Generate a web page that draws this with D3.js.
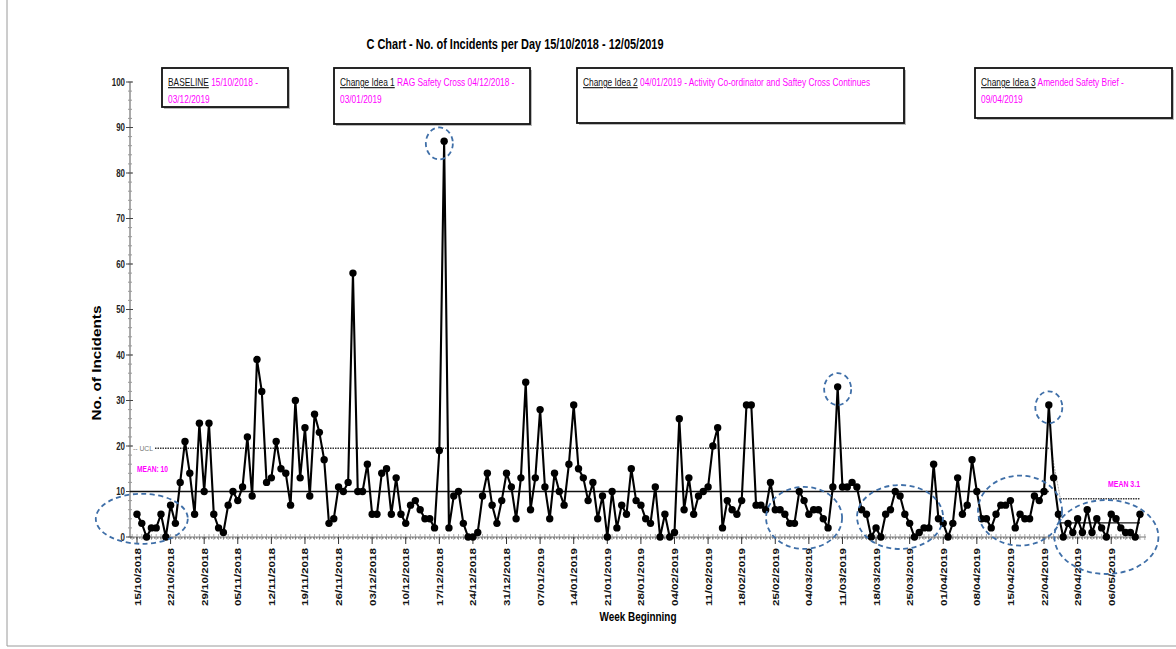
<!DOCTYPE html>
<html><head><meta charset="utf-8">
<script src="https://cdn.jsdelivr.net/npm/d3@7"></script>
<style>body{margin:0;background:#fff}svg{display:block}</style>
</head><body><svg id="c" width="1176" height="649"></svg>
<script>
const startDate = "15/10/2018";
const incidents = [
  5,3,0,2,2,5,0,7,3,12,21,14,5,25,10,25,5,2,1,7,10,8,11,22,9,39,32,12,13,21,15,14,7,30,13,
  24,9,27,23,17,3,4,11,10,12,58,10,10,16,5,5,14,15,5,13,5,3,7,8,6,4,4,2,19,87,2,9,10,3,0,
  0,1,9,14,7,3,8,14,11,4,13,34,6,13,28,11,4,14,10,7,16,29,15,13,8,12,4,9,0,10,2,7,5,15,8,
  7,4,3,11,0,5,0,1,26,6,13,5,9,10,11,20,24,2,8,6,5,8,29,29,7,7,6,12,6,6,5,3,3,10,8,
  5,6,6,4,2,11,33,11,11,12,11,6,5,0,2,0,5,6,10,9,5,3,0,1,2,2,16,4,3,0,3,13,5,7,17,
  10,4,4,2,5,7,7,8,2,5,4,4,9,8,10,29,13,5,0,3,1,4,1,6,1,4,2,0,5,4,2,1,1,0,5
];
const weekLabels = ["15/10/2018","22/10/2018","29/10/2018","05/11/2018","12/11/2018","19/11/2018",
  "26/11/2018","03/12/2018","10/12/2018","17/12/2018","24/12/2018","31/12/2018","07/01/2019",
  "14/01/2019","21/01/2019","28/01/2019","04/02/2019","11/02/2019","18/02/2019","25/02/2019",
  "04/03/2019","11/03/2019","18/03/2019","25/03/2019","01/04/2019","08/04/2019","15/04/2019",
  "22/04/2019","29/04/2019","06/05/2019"];
const yTicks = [0,10,20,30,40,50,60,70,80,90,100];
const phaseStart = ["15/10/2018","25/04/2019"];
const phaseEnd = ["23/04/2019","12/05/2019"];
const phaseMean = [10, 3.1];
const phaseUCL = [19.5, 8.4];
const phaseMeanLabel = ["MEAN: 10", "MEAN 3.1"];
const highlightDate = ["17/12/2018","10/03/2019","23/04/2019","16/10/2018","03/03/2019","23/03/2019","17/04/2019","05/05/2019"];
const highlightValue = [86.5, 32.5, 28.5, 4, 4.2, 4.4, 5.8, 0];
const highlightSize = ["s","s","s","L","L","L","L","L"];
const boxTitles = ["BASELINE","Change Idea 1","Change Idea 2","Change Idea 3"];
const boxLine1 = [" 15/10/2018 -"," RAG Safety Cross 04/12/2018 -"," 04/01/2019 - Activity Co-ordinator and Saftey Cross Continues"," Amended Safety Brief -"];
const boxLine2 = ["03/12/2019","03/01/2019","","09/04/2019"];

const parse = d3.utcParse("%d/%m/%Y");
const t0 = parse(startDate);
const data = incidents.map((v,i)=>({date:d3.utcDay.offset(t0,i), v}));
const svg = d3.select("#c");
const MAG = "#ff00ff";
const FONT = "Liberation Sans, Arial, sans-serif";
const x = d3.scaleUtc().domain([data[0].date, data[data.length-1].date]).range([137, 1140]);
const y = d3.scaleLinear().domain([0,100]).range([537, 82]);
const left = 130, right = 1146;

// frame
svg.append("line").attr("x1",7).attr("x2",7).attr("y1",0).attr("y2",646).attr("stroke","#9a9a9a");
svg.append("line").attr("x1",7).attr("x2",1176).attr("y1",646).attr("y2",646).attr("stroke","#9a9a9a");

// title
svg.append("text").attr("x",515).attr("y",49).attr("text-anchor","middle")
  .attr("font-family",FONT).attr("font-weight","bold").attr("font-size",14.5)
  .attr("textLength",297).attr("lengthAdjust","spacingAndGlyphs")
  .text("C Chart - No. of Incidents per Day 15/10/2018 - 12/05/2019");

// y axis
svg.append("line").attr("x1",left).attr("x2",left).attr("y1",y(100)).attr("y2",y(0)).attr("stroke","#555");
const minor = d3.range(0,101,2);
svg.selectAll(".ymin").data(minor).join("line").attr("x1",left-2).attr("x2",left+2)
  .attr("y1",d=>y(d)).attr("y2",d=>y(d)).attr("stroke","#999");
svg.selectAll(".ymaj").data(yTicks).join("line").attr("x1",left-4).attr("x2",left+3)
  .attr("y1",d=>y(d)).attr("y2",d=>y(d)).attr("stroke","#444");
svg.selectAll(".ylab").data(yTicks).join("text").attr("x",left-5).attr("y",d=>y(d)+3.5)
  .attr("text-anchor","end").attr("font-family",FONT).attr("font-size",10).attr("font-weight","bold")
  .attr("fill","#222").text(d=>d)
  .each(function(d){const w=String(d).length*4.4; d3.select(this).attr("textLength",w).attr("lengthAdjust","spacingAndGlyphs");});
svg.append("text").attr("transform",`translate(101,363) rotate(-90)`).attr("text-anchor","middle")
  .attr("font-family",FONT).attr("font-weight","bold").attr("font-size",12.5)
  .attr("textLength",115).attr("lengthAdjust","spacingAndGlyphs").text("No. of Incidents");

// x axis
svg.append("line").attr("x1",left).attr("x2",right).attr("y1",y(0)).attr("y2",y(0)).attr("stroke","#777");
const allDays = d3.utcDay.range(d3.utcDay.offset(data[0].date,-1), d3.utcDay.offset(data[data.length-1].date,2));
svg.selectAll(".xmin").data(allDays).join("line").attr("x1",d=>x(d)).attr("x2",d=>x(d))
  .attr("y1",y(0)-3).attr("y2",y(0)+3).attr("stroke","#999").attr("stroke-width",0.8);
const wk = weekLabels.map(s=>({s, d:parse(s)}));
svg.selectAll(".xmaj").data(wk).join("line").attr("x1",d=>x(d.d)).attr("x2",d=>x(d.d))
  .attr("y1",y(0)).attr("y2",y(0)+7).attr("stroke","#333");
svg.selectAll(".xlab").data(wk).join("text")
  .attr("transform",d=>`translate(${x(d.d)+3.5},${y(0)+11}) rotate(-90)`).attr("text-anchor","end")
  .attr("font-family",FONT).attr("font-weight","bold").attr("font-size",9.5)
  .attr("textLength",58).attr("lengthAdjust","spacingAndGlyphs").attr("fill","#111").text(d=>d.s);
svg.append("text").attr("x",638).attr("y",621).attr("text-anchor","middle")
  .attr("font-family",FONT).attr("font-weight","bold").attr("font-size",13)
  .attr("textLength",77).attr("lengthAdjust","spacingAndGlyphs").text("Week Beginning");

// LCL dotted
svg.append("line").attr("x1",left).attr("x2",x(data[data.length-1].date)).attr("y1",y(0)+1).attr("y2",y(0)+1)
  .attr("stroke","#444").attr("stroke-dasharray","1.5,1.5").attr("stroke-width",1.2);

// phases: mean & UCL
phaseMean.forEach((m,i)=>{
  const xs = i===0 ? left : x(parse(phaseStart[i]));
  const xe = x(parse(phaseEnd[i]));
  svg.append("line").attr("x1",xs).attr("x2",xe).attr("y1",y(m)).attr("y2",y(m)).attr("stroke","#111").attr("stroke-width",1.3);
  const us = i===0 ? left+25 : x(parse(phaseStart[i]))+2;
  svg.append("line").attr("x1",us).attr("x2",xe).attr("y1",y(phaseUCL[i])).attr("y2",y(phaseUCL[i]))
    .attr("stroke","#333").attr("stroke-width",1.6).attr("stroke-dasharray","1.5,1");
});
svg.append("line").attr("x1",x(parse(phaseEnd[0]))+2).attr("x2",x(parse(phaseStart[1]))+2)
  .attr("y1",y(phaseUCL[0])).attr("y2",y(phaseUCL[1])).attr("stroke","#aaa").attr("stroke-width",1).attr("stroke-dasharray","2,1");
svg.append("text").attr("x",left+3).attr("y",y(phaseUCL[0])+2.5).attr("font-family",FONT)
  .attr("font-size",7).attr("fill","#777").attr("textLength",20).attr("lengthAdjust","spacingAndGlyphs").text("-- UCL");
svg.append("text").attr("x",left+7).attr("y",y(14.2)).attr("font-family",FONT)
  .attr("font-size",9).attr("font-weight","bold").attr("fill",MAG).attr("textLength",31).attr("lengthAdjust","spacingAndGlyphs").text(phaseMeanLabel[0]);
svg.append("text").attr("x",1124).attr("y",y(11)).attr("text-anchor","middle").attr("font-family",FONT)
  .attr("font-size",9).attr("font-weight","bold").attr("fill",MAG).attr("textLength",32).attr("lengthAdjust","spacingAndGlyphs").text(phaseMeanLabel[1]);

// data line
svg.append("path").datum(data).attr("fill","none").attr("stroke","#000").attr("stroke-width",2.1)
  .attr("stroke-linejoin","round").attr("d",d3.line().x(d=>x(d.date)).y(d=>y(d.v)));
svg.selectAll(".pt").data(data).join("circle").attr("cx",d=>x(d.date)).attr("cy",d=>y(d.v)).attr("r",3.7).attr("fill","#000");

// highlight ellipses
const smallR = [13.5,16];
const bigR = [[0,0],[0,0],[0,0],[46,25],[38,31],[43,32],[42,35],[52,37]];
highlightDate.forEach((s,i)=>{
  const r = highlightSize[i]==="s" ? smallR : bigR[i];
  svg.append("ellipse").attr("cx",x(parse(s))).attr("cy",y(highlightValue[i])).attr("rx",r[0]).attr("ry",r[1])
    .attr("fill","none").attr("stroke","#3f6fa8").attr("stroke-width",1.8).attr("stroke-dasharray","5,3.5");
});

// annotation boxes
const boxes = [[162,68,126,39],[334,68,196,56],[577,68,327,55],[975,68,197,50]];
boxes.forEach((b,i)=>{
  svg.append("rect").attr("x",b[0]+2).attr("y",b[1]+2).attr("width",b[2]).attr("height",b[3]).attr("fill","#bbb");
  svg.append("rect").attr("x",b[0]).attr("y",b[1]).attr("width",b[2]).attr("height",b[3]).attr("fill","#fff")
    .attr("stroke","#111").attr("stroke-width",1.8);
  const g = svg.append("g").attr("transform",`translate(${b[0]+6},${b[1]+18}) scale(0.76,1)`);
  const t = g.append("text").attr("font-family",FONT).attr("font-size",11);
  t.append("tspan").attr("fill","#111").attr("text-decoration","underline").text(boxTitles[i]);
  t.append("tspan").attr("fill",MAG).text(boxLine1[i]);
  if (boxLine2[i]) g.append("text").attr("y",17).attr("font-family",FONT)
    .attr("font-size",11).attr("fill",MAG).text(boxLine2[i]);
});
</script></body></html>
